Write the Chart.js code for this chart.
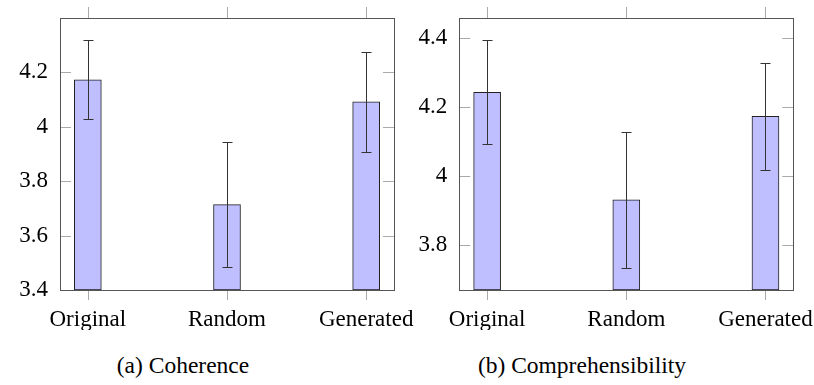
<!DOCTYPE html>
<html>
<head>
<meta charset="utf-8">
<script src="https://cdn.jsdelivr.net/npm/chart.js@4.4.1/dist/chart.umd.min.js"></script>
<style>
  body { margin: 0; background: #fff; width: 814px; height: 385px; position: relative; overflow: hidden; }
  canvas { position: absolute; top: 0; }
  #coh { left: 0; }
  #comp { left: 400px; }
  .cap { position: absolute; top: 353px; line-height: 24px; font-family: "Liberation Serif", serif; font-size: 23.5px; color: #000; transform: translateX(-50%); white-space: nowrap; }
</style>
</head>
<body>
<canvas id="coh" width="425" height="330"></canvas>
<canvas id="comp" width="414" height="330"></canvas>
<div class="cap" style="left:183px">(a) Coherence</div>
<div class="cap" style="left:582px">(b) Comprehensibility</div>
<script>
// data
const categories = ['Original', 'Random', 'Generated'];
const coherence = [4.173, 3.714, 4.092];
const coherenceErr = [0.145, 0.23, 0.184];
const comprehens = [4.242, 3.93, 4.172];
const comprehensErr = [0.15, 0.196, 0.156];
const coherenceTicks = [3.4, 3.6, 3.8, 4.0, 4.2];
const comprehensTicks = [3.8, 4.0, 4.2, 4.4];

const FONT = { family: '"Liberation Serif", serif', size: 23 };

// box, tick marks and error bars
const frame = {
    id: 'frame',
    afterDatasetsDraw(chart, args, opts) {
        const ctx = chart.ctx;
        const a = chart.chartArea;
        const x = chart.scales.x, y = chart.scales.y;
        const data = chart.data.datasets[0].data;
        ctx.save();
        ctx.lineWidth = 1;

        ctx.strokeStyle = '#333';
        ctx.beginPath();
        opts.errors.forEach(function (e, i) {
            const px = Math.round(x.getPixelForValue(i)) + 0.5;
            const top = Math.round(y.getPixelForValue(data[i].y + e)) + 0.5;
            const bot = Math.round(y.getPixelForValue(data[i].y - e)) + 0.5;
            ctx.moveTo(px, top); ctx.lineTo(px, bot);
            ctx.moveTo(px - 5, top); ctx.lineTo(px + 5, top);
            ctx.moveTo(px - 5, bot); ctx.lineTo(px + 5, bot);
        });
        ctx.stroke();

        ctx.strokeStyle = '#aaa';
        ctx.beginPath();
        y.ticks.forEach(function (t, i) {
            const py = Math.round(y.getPixelForTick(i)) + 0.5;
            ctx.moveTo(a.left, py); ctx.lineTo(a.left + 11, py);
            ctx.moveTo(a.right - 11, py); ctx.lineTo(a.right, py);
        });
        x.ticks.forEach(function (t, i) {
            const px = Math.round(x.getPixelForTick(i)) + 0.5;
            ctx.moveTo(px, a.top - 11); ctx.lineTo(px, a.top);
            ctx.moveTo(px, a.bottom); ctx.lineTo(px, a.bottom + 10);
        });
        ctx.stroke();

        ctx.strokeStyle = '#555';
        ctx.strokeRect(Math.round(a.left) + 0.5, Math.round(a.top) + 0.5,
            Math.round(a.right - a.left), Math.round(a.bottom - a.top));
        ctx.restore();
    }
};

function makeChart(id, values, errs, yTicks, yMin, yMax, yWidth, padRight) {
    return new Chart(document.getElementById(id), {
        type: 'bar',
        data: {
            datasets: [{
                data: values.map(function (v, i) { return { x: i, y: v }; }),
                base: yMin,
                barThickness: 27,
                backgroundColor: 'rgb(191, 191, 255)',
                borderColor: '#222',
                borderWidth: 1,
                borderSkipped: false
            }]
        },
        options: {
            responsive: false,
            animation: false,
            devicePixelRatio: 1,
            layout: { padding: { left: 0, top: 18, right: padRight, bottom: 0 } },
            plugins: {
                legend: { display: false },
                tooltip: { enabled: false },
                frame: { errors: errs }
            },
            scales: {
                x: {
                    type: 'linear',
                    offset: false,
                    min: -0.2,
                    max: 2.2,
                    grid: { display: false, drawTicks: false, offset: false },
                    border: { display: false },
                    afterBuildTicks: function (s) { s.ticks = categories.map(function (c, i) { return { value: i }; }); },
                    afterFit: function (s) { s.height = 40; s.paddingLeft = 0; s.paddingRight = 0; },
                    ticks: {
                        padding: 16,
                        font: FONT,
                        color: '#000',
                        maxRotation: 0,
                        autoSkip: false,
                        callback: function (v) { return categories[v]; }
                    }
                },
                y: {
                    min: yMin,
                    max: yMax,
                    grid: { display: false, drawTicks: false },
                    border: { display: false },
                    afterBuildTicks: function (s) { s.ticks = yTicks.map(function (v) { return { value: v }; }); },
                    afterFit: function (s) { s.width = yWidth; s.paddingTop = 0; s.paddingBottom = 0; },
                    ticks: {
                        padding: 12,
                        font: FONT,
                        color: '#000',
                        callback: function (v) { return String(+v.toFixed(1)); }
                    }
                }
            }
        },
        plugins: [frame]
    });
}

const chartCoh = makeChart('coh', coherence, coherenceErr, coherenceTicks, 3.4, 4.4, 60, 31);
const chartComp = makeChart('comp', comprehens, comprehensErr, comprehensTicks, 3.669, 4.457, 59.3, 20.7);
</script>
</body>
</html>
